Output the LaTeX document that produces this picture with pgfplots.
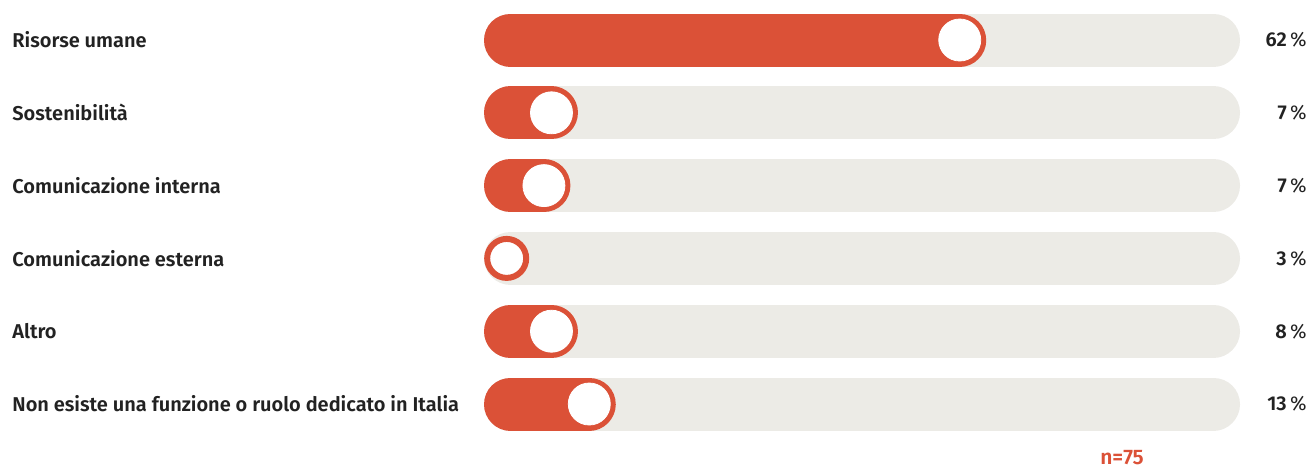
\documentclass[border=0pt]{standalone}
\usepackage{fontspec}
\setmainfont{Fira Sans}[BoldFont={Fira Sans SemiBold}]
\usepackage{pgfplots}
\pgfplotsset{compat=1.18}
\definecolor{barred}{HTML}{DB5137}
\definecolor{track}{HTML}{ECEBE6}
\definecolor{txt}{HTML}{222222}
\tikzset{lab/.style={anchor=west, inner sep=0pt, text=txt, font=\fontsize{10pt}{11pt}\selectfont\bfseries},
         val/.style={anchor=east, inner sep=0pt, text=txt, font=\fontsize{10pt}{11pt}\selectfont}}
\begin{document}
\begin{tikzpicture}
\begin{axis}[
  width=655pt, height=234.5pt, scale only axis,
  xmin=-64.947, xmax=108.333,
  ymin=0.4505, ymax=6.8929, y dir=reverse,
  axis lines=none, ticks=none, clip=false,
]
\path (rel axis cs:0,0) coordinate (ll) (rel axis cs:1,1) coordinate (ur);
\path[use as bounding box] (ll) rectangle (ur);
% tracks
\pgfplotsinvokeforeach{1,...,6}{
  \addplot[track, line width=26.5pt, line cap=round] coordinates {(2.579,#1) (95.57,#1)};
}
% red bars
\addplot[barred, line width=26.5pt, line cap=round] coordinates {(2.579,1) (62,1)};
\addplot[barred, line width=26.5pt, line cap=round] coordinates {(2.579,2) (8,2)};
\addplot[barred, line width=26.5pt, line cap=round] coordinates {(2.579,3) (7,3)};
\addplot[barred, line width=26.5pt, line cap=round] coordinates {(2.579,5) (8,5)};
\addplot[barred, line width=26.5pt, line cap=round] coordinates {(2.579,6) (13,6)};
% knobs
\addplot[white, only marks, mark=*, mark size=10.5pt]
  coordinates {(62,1) (8,2) (7,3) (8,5) (13,6)};
\addplot[barred, only marks, mark=*, mark size=9.75pt, mark options={fill=white, draw=barred, line width=3pt, xshift=-3.5pt}]
  coordinates {(3,4)};
% labels
\node[lab] at (axis cs:-63.36,1) {Risorse umane};
\node[lab] at (axis cs:-63.36,2) {Sostenibilità};
\node[lab] at (axis cs:-63.36,3) {Comunicazione interna};
\node[lab] at (axis cs:-63.36,4) {Comunicazione esterna};
\node[lab] at (axis cs:-63.36,5) {Altro};
\node[lab] at (axis cs:-63.36,6) {Non esiste una funzione o ruolo dedicato in Italia};
\node[val] at (axis cs:107.94,1) {\textbf{62}\,\%};
\node[val] at (axis cs:107.94,2) {\textbf{7}\,\%};
\node[val] at (axis cs:107.94,3) {\textbf{7}\,\%};
\node[val] at (axis cs:107.94,4) {\textbf{3}\,\%};
\node[val] at (axis cs:107.94,5) {\textbf{8}\,\%};
\node[val] at (axis cs:107.94,6) {\textbf{13}\,\%};
\node[inner sep=0pt, text=barred, font=\fontsize{10.5pt}{12pt}\selectfont\bfseries] at (axis cs:83.47,6.73) {n=75};
\end{axis}
\end{tikzpicture}
\end{document}
